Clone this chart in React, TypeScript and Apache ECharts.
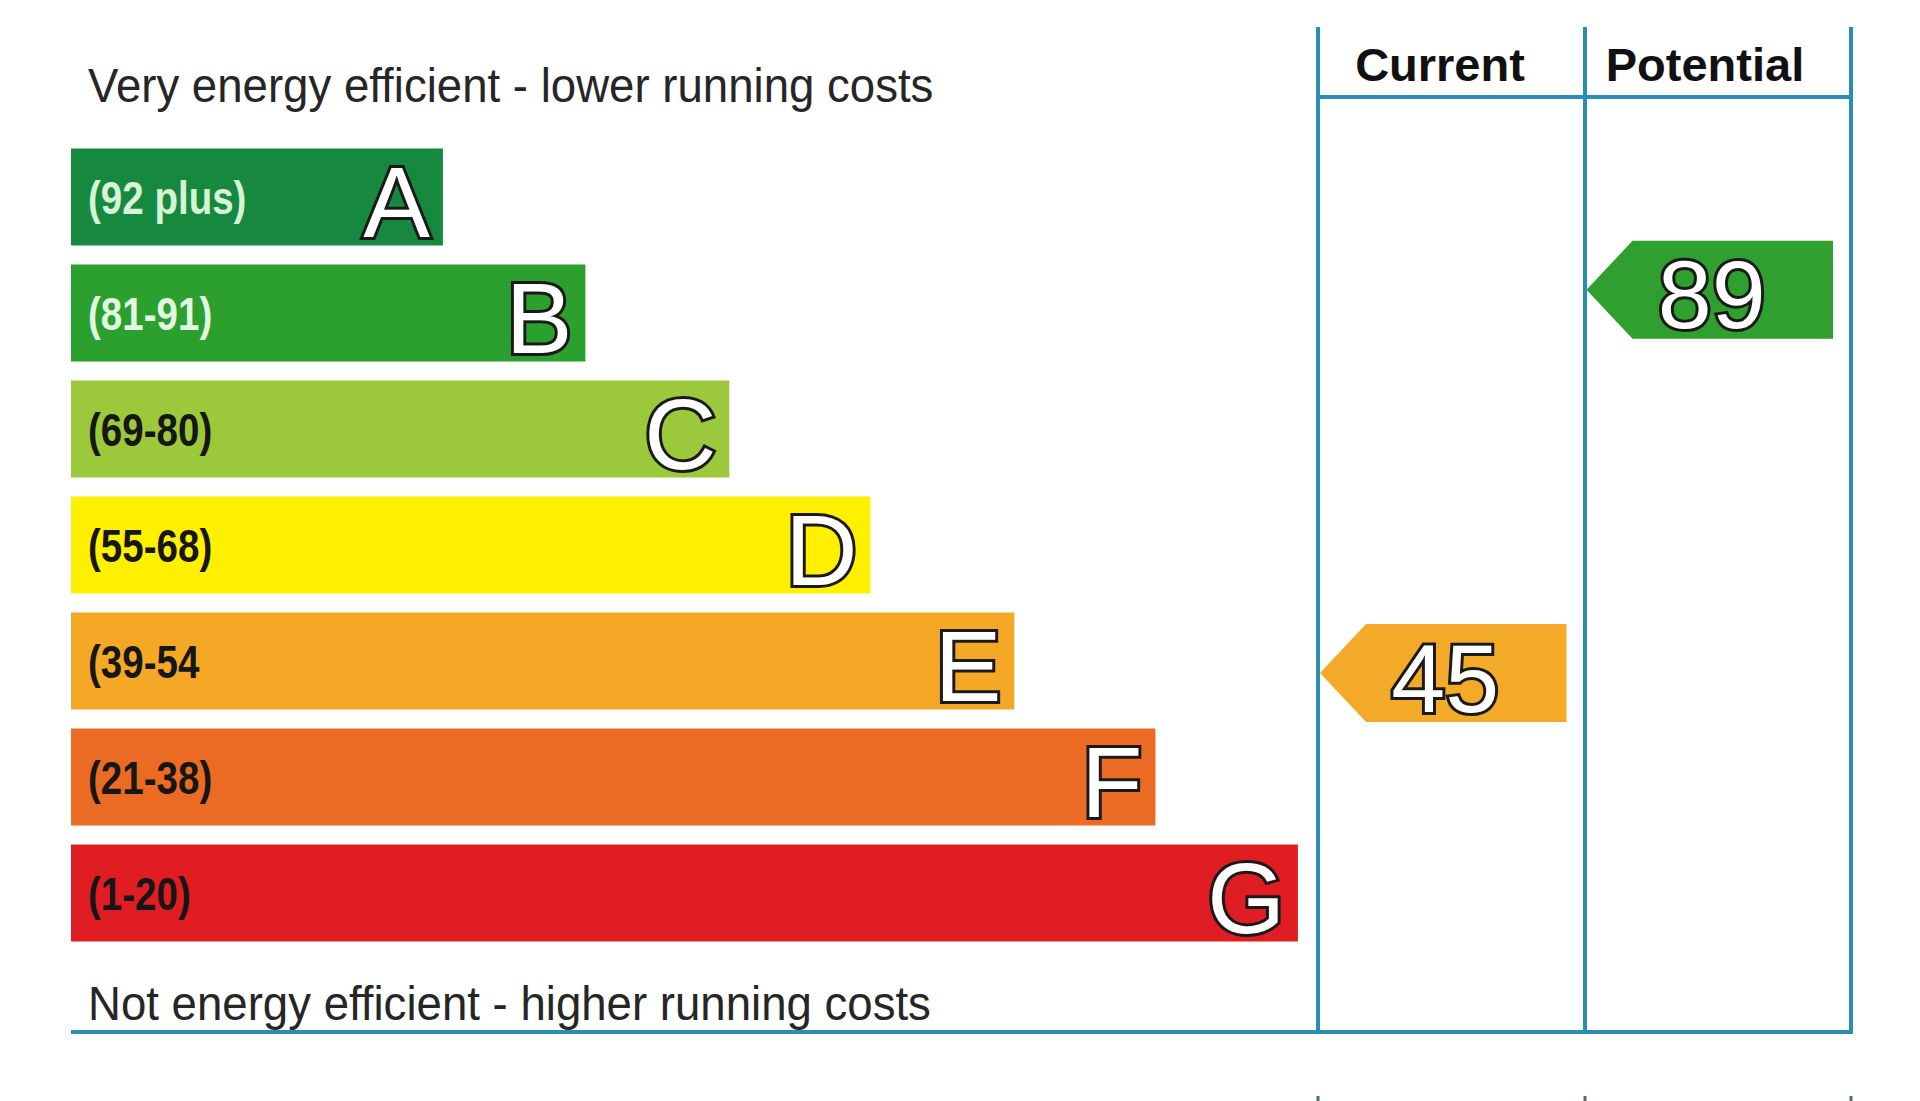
import React, { useEffect, useRef } from "react";
import * as echarts from "echarts";

// ---- data ----
const bandLetters = ["A", "B", "C", "D", "E", "F", "G"];
const bandRanges = ["(92 plus)", "(81-91)", "(69-80)", "(55-68)", "(39-54", "(21-38)", "(1-20)"];
const bandLengths = [2.61, 3.61, 4.62, 5.61, 6.62, 7.61, 8.61];
const bandColors = ["#16893f", "#2ba02f", "#9cc83c", "#fff000", "#f5a826", "#ec6b24", "#e11d24"];
const rangeTextColors = ["#d6f3d6", "#e2f6e2", "#161616", "#161616", "#161616", "#161616", "#161616"];
const columns = ["Current", "Potential"];
const ratings = [45, 89];
const ratingColors = ["#f2aa28", "#2f9f2f"];
const topNote = "Very energy efficient - lower running costs";
const bottomNote = "Not energy efficient - higher running costs";

const FONT = "'Liberation Sans', Arial, Helvetica, sans-serif";
const LINE = "#2a8db2";
const OUTLINE = "#1a1a1a";

export default function App() {
  const ref = useRef<HTMLDivElement>(null);
  useEffect(() => {
    document.body.style.margin = "0";
    const chart = echarts.init(ref.current!, null, { renderer: "svg" });

    const option: any = {
      animation: false,
      backgroundColor: "#ffffff",
      grid: [
        { left: 71, top: 139, width: 1425, height: 812 },
        { left: 1318, top: 194, width: 533, height: 871 },
      ],
      xAxis: [
        { type: "value", gridIndex: 0, min: 0, max: 10, show: false },
        { type: "category", gridIndex: 1, data: columns, show: false },
      ],
      yAxis: [
        { type: "category", gridIndex: 0, data: bandLetters, inverse: true, show: false },
        { type: "value", gridIndex: 1, min: 0, max: 100, show: false },
      ],
      series: [
        {
          type: "custom",
          xAxisIndex: 0,
          yAxisIndex: 0,
          data: bandLengths.map((v, i) => [v, i]),
          renderItem: (params: any, api: any) => {
            const i = params.dataIndex;
            const start = api.coord([0, api.value(1)]);
            const end = api.coord([api.value(0), api.value(1)]);
            const h = api.size([0, 1])[1] * 0.836;
            const y = start[1];
            return {
              type: "group",
              children: [
                {
                  type: "rect",
                  shape: { x: start[0], y: y - h / 2, width: end[0] - start[0], height: h },
                  style: { fill: bandColors[i] },
                },
                {
                  type: "text",
                  x: start[0] + 17,
                  y: y + 1,
                  scaleX: 0.82,
                  style: {
                    text: bandRanges[i],
                    x: 0,
                    y: 0,
                    align: "left",
                    verticalAlign: "middle",
                    fontSize: 47,
                    fontWeight: "bold",
                    fontFamily: FONT,
                    fill: rangeTextColors[i],
                  },
                },
                {
                  type: "text",
                  style: {
                    text: bandLetters[i],
                    x: end[0] - 13,
                    y: y + 5,
                    align: "right",
                    verticalAlign: "middle",
                    fontSize: 100,
                    fontFamily: FONT,
                    fill: "#ffffff",
                    stroke: OUTLINE,
                    lineWidth: 6,
                    strokeFirst: true,
                  },
                },
              ],
            };
          },
        },
        {
          type: "custom",
          xAxisIndex: 1,
          yAxisIndex: 1,
          data: ratings.map((r, i) => [i, r]),
          renderItem: (params: any, api: any) => {
            const c = api.coord([api.value(0), api.value(1)]);
            const bw = api.size([1, 0])[0];
            const left = c[0] - bw / 2 + 2;
            const right = c[0] + bw / 2 - 18;
            const h = 49;
            const notch = 46;
            const y = c[1];
            return {
              type: "group",
              children: [
                {
                  type: "polygon",
                  shape: {
                    points: [
                      [left, y],
                      [left + notch, y - h],
                      [right, y - h],
                      [right, y + h],
                      [left + notch, y + h],
                    ],
                  },
                  style: { fill: ratingColors[params.dataIndex] },
                },
                {
                  type: "text",
                  style: {
                    text: String(api.value(1)),
                    x: c[0] - 6,
                    y: y + 5,
                    align: "center",
                    verticalAlign: "middle",
                    fontSize: 97,
                    fontFamily: FONT,
                    fill: "#ffffff",
                    stroke: OUTLINE,
                    lineWidth: 6,
                    strokeFirst: true,
                  },
                },
              ],
            };
          },
        },
      ],
      graphic: [
        // frame lines
        { type: "line", shape: { x1: 1318, y1: 27, x2: 1318, y2: 1032 }, style: { stroke: LINE, lineWidth: 4 } },
        { type: "line", shape: { x1: 1585, y1: 27, x2: 1585, y2: 1032 }, style: { stroke: LINE, lineWidth: 4 } },
        { type: "line", shape: { x1: 1851, y1: 27, x2: 1851, y2: 1032 }, style: { stroke: LINE, lineWidth: 4 } },
        { type: "line", shape: { x1: 1318, y1: 97, x2: 1851, y2: 97 }, style: { stroke: LINE, lineWidth: 4 } },
        { type: "line", shape: { x1: 71, y1: 1032, x2: 1853, y2: 1032 }, style: { stroke: LINE, lineWidth: 4 } },
        // tiny stubs at bottom edge
        { type: "line", shape: { x1: 1318, y1: 1096, x2: 1318, y2: 1101 }, style: { stroke: "#4a6f7a", lineWidth: 3 } },
        { type: "line", shape: { x1: 1585, y1: 1096, x2: 1585, y2: 1101 }, style: { stroke: "#4a6f7a", lineWidth: 3 } },
        { type: "line", shape: { x1: 1851, y1: 1096, x2: 1851, y2: 1101 }, style: { stroke: "#4a6f7a", lineWidth: 3 } },
        // headers
        {
          type: "text",
          x: 1440,
          y: 64,
          style: { text: columns[0], align: "center", verticalAlign: "middle", fontSize: 47, fontWeight: "bold", fontFamily: FONT, fill: "#111111" },
        },
        {
          type: "text",
          x: 1705,
          y: 64,
          style: { text: columns[1], align: "center", verticalAlign: "middle", fontSize: 47, fontWeight: "bold", fontFamily: FONT, fill: "#111111" },
        },
        // notes
        {
          type: "text",
          x: 88,
          y: 86,
          scaleX: 0.95,
          style: { text: topNote, x: 0, y: 0, align: "left", verticalAlign: "middle", fontSize: 48, fontFamily: FONT, fill: "#262626" },
        },
        {
          type: "text",
          x: 88,
          y: 1004,
          scaleX: 0.95,
          style: { text: bottomNote, x: 0, y: 0, align: "left", verticalAlign: "middle", fontSize: 48, fontFamily: FONT, fill: "#262626" },
        },
      ],
    };
    chart.setOption(option);
    return () => chart.dispose();
  }, []);
  return <div ref={ref} style={{ position: "fixed", left: 0, top: 0, width: 1920, height: 1101 }} />;
}
